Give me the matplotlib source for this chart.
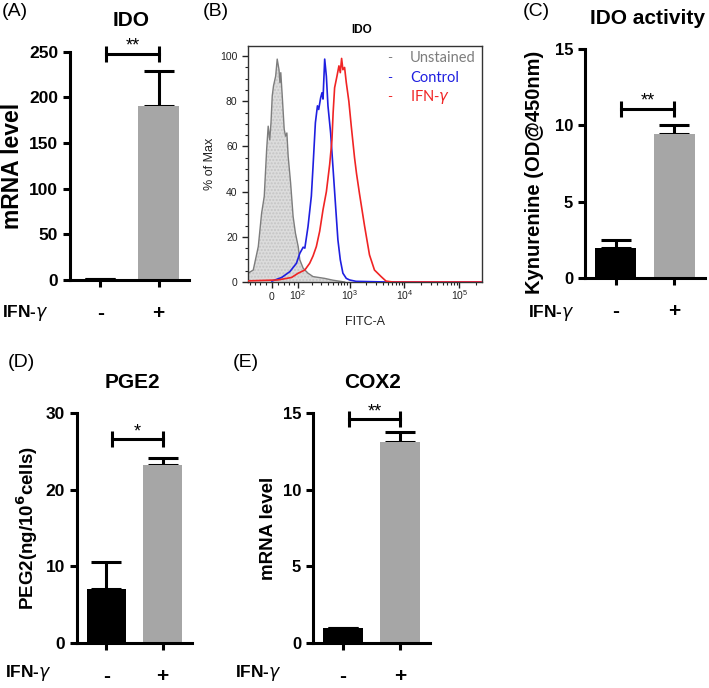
import numpy as np
import matplotlib
matplotlib.use('Agg')
import matplotlib.pyplot as plt
from matplotlib.ticker import FixedLocator
import matplotlib.transforms as mtrans

plt.rcParams['font.family'] = ['Liberation Sans', 'DejaVu Sans']
plt.rcParams['mathtext.fontset'] = 'dejavusans'

W, H = 709, 688

# bar panels: IFN-gamma  -  / +
groups = ['-', '+']
bar_colors = ['black', '#a6a6a6']

ido_mrna = [1.0, 190.0]
ido_mrna_err = [0.0, 39.0]
kyn = [1.95, 9.4]
kyn_err = [0.55, 0.6]
pge2 = [7.1, 23.2]
pge2_err = [3.5, 0.9]
cox2 = [1.0, 13.1]
cox2_err = [0.0, 0.65]

# significance bracket heights and labels
sig_ido, sig_kyn, sig_pge2, sig_cox2 = 248.0, 11.1, 26.6, 14.6
stars_ido, stars_kyn, stars_pge2, stars_cox2 = '**', '**', '*', '**'

# flow histogram (B), FITC-A intensity vs % of max
unst_x = [-90, -66, -46, -34, -25, -17, -12, -7, -3, 1, 5, 12, 17, 23, 26, 29, 34, 41,
          46, 51, 56, 66, 77, 88, 102, 111, 131, 165, 207, 345, 491, 806]
unst_y = [3.9, 5.3, 15.7, 30.5, 37.9, 58.7, 69, 63, 70.5, 82.4, 86.8, 91.2, 98.7, 94,
          88.3, 92.7, 82.4, 67.6, 64.6, 66, 55.7, 43.9, 29, 21.6, 15.7, 9.8, 6.1, 3.9,
          2.4, 1.6, 0.8, 0]
ctrl_x = [0, 32, 63, 93, 111, 131, 142, 165, 192, 207, 230, 252, 266, 290, 307, 321,
          345, 371, 397, 445, 491, 550, 606, 671, 749, 864, 993, 1300, 4600, 250000]
ctrl_y = [0.4, 2, 4.6, 8.3, 12.7, 15.4, 15, 24.6, 38, 51, 70.5, 78, 76.4, 81.6, 83.8,
          81, 98.7, 91, 78, 66, 51, 33.5, 18.7, 9.8, 3.9, 1.6, 0.9, 0.3, 0, 0]
ifn_x = [-90, 19, 70, 102, 142, 178, 207, 240, 278, 321, 371, 427, 471, 495, 527, 581,
         633, 671, 709, 749, 804, 864, 963, 1066, 1224, 1330, 1509, 1860, 2295, 2830,
         3740, 4600, 6080, 250000]
ifn_y = [0.5, 0.9, 2, 3.9, 5.3, 8.3, 11.5, 15.7, 22.5, 32, 40, 52, 63, 75, 86, 91,
         95.7, 92.7, 99, 94, 95, 88.3, 80, 69, 55, 48, 39, 25, 12, 5.3, 2.4, 0.4, 0, 0]
flow_ticks = [0, 1e2, 1e3, 1e4, 1e5]
flow_ticklabels = ['0', r'$\mathregular{10^2}$', r'$\mathregular{10^3}$',
                   r'$\mathregular{10^4}$', r'$\mathregular{10^5}$']


def rect(l, t, r, b):
    return [l / W, 1 - b / H, (r - l) / W, (b - t) / H]


def fx(px):
    return px / W


def fy(py):
    return 1 - py / H


fig = plt.figure(figsize=(W / 100, H / 100), dpi=100)


def bar_panel(box, vals, errs, ymax, ystep, ylab, ylab_size, tick_size, sig_y, stars):
    ax = fig.add_axes(rect(*box))
    x = np.arange(len(groups))
    ax.bar(x, vals, width=0.7, color=bar_colors, zorder=2)
    ax.errorbar(x, vals, yerr=[np.zeros(len(errs)), errs], fmt='none', ecolor='black',
                elinewidth=2.2, capsize=11, capthick=2.2, zorder=1)
    ax.set_xlim(-0.52, 1.52)
    ax.set_ylim(0, ymax)
    ax.set_yticks(np.arange(0, ymax + 0.01, ystep))
    ax.set_xticks(x)
    ax.set_xticklabels(groups, fontsize=15, fontweight='bold')
    for s in ['top', 'right']:
        ax.spines[s].set_visible(False)
    for s in ['left', 'bottom']:
        ax.spines[s].set_linewidth(2.2)
    ax.tick_params(axis='both', direction='out', length=5, width=2.2)
    ax.tick_params(axis='x', pad=12)
    for lab in ax.get_yticklabels():
        lab.set_fontweight('bold')
        lab.set_fontsize(tick_size)
    ax.set_ylabel(ylab, fontsize=ylab_size, fontweight='bold', labelpad=4)
    # significance bracket
    ax.plot([0.1, 1.0], [sig_y, sig_y], color='black', lw=2.2, clip_on=False)
    ax.plot([0.1, 1.0], [sig_y, sig_y], ls='none', marker='|', ms=11, mew=2.2,
            color='black', clip_on=False)
    ax.annotate(stars, xy=(0.55, sig_y), xytext=(0, -1), textcoords='offset points',
                ha='center', va='bottom', fontsize=13, annotation_clip=False)
    return ax


axA = bar_panel((70, 51.7, 189, 280), ido_mrna, ido_mrna_err, 250, 50, 'mRNA level', 16.5,
                12.5, sig_ido, stars_ido)
axC = bar_panel((585, 49, 705, 278), kyn, kyn_err, 15, 5, 'Kynurenine (OD@450nm)', 14.5,
                12, sig_kyn, stars_kyn)
axD = bar_panel((77, 413, 192, 643), pge2, pge2_err, 30, 10,
                r'PEG2(ng/10$^\mathbf{6}$cells)', 13.5, 12.5, sig_pge2, stars_pge2)
axE = bar_panel((313, 413, 430, 643), cox2, cox2_err, 15, 5, 'mRNA level', 13.5,
                12, sig_cox2, stars_cox2)
axC.yaxis.set_label_coords(-0.34, 0.46)

# panel B, flow cytometry histogram
axB = fig.add_axes(rect(248, 46, 482, 282))
axB.set_xscale('asinh', linear_width=76)
axB.fill_between(unst_x, unst_y, 0, facecolor='#dcdcdc', edgecolor='#c4c4c4',
                 hatch='.....', linewidth=0, zorder=1)
axB.plot(unst_x, unst_y, color='#7d7d7d', lw=1.0, zorder=2)
axB.plot(ctrl_x, ctrl_y, color='#1f1fe0', lw=1.2, zorder=3)
axB.plot(ifn_x, ifn_y, color='#f02424', lw=1.2, zorder=4)
axB.set_xlim(-90, 2.6e5)
axB.set_ylim(0, 104.5)
axB.set_xticks(flow_ticks)
axB.set_xticklabels([])
minor = [-80, -60, -40, -20, 20, 40, 60, 80]
for d in [1e2, 1e3, 1e4]:
    minor += [d * k for k in range(2, 10)]
minor += [2e5]
axB.xaxis.set_minor_locator(FixedLocator(minor))
axB.set_yticks(np.arange(0, 101, 20))
axB.yaxis.set_minor_locator(FixedLocator(np.arange(0, 101, 5)))
axB.tick_params(axis='both', which='major', length=4, width=1, labelsize=7.5, colors='#222')
axB.tick_params(axis='both', which='minor', length=2, width=0.8, colors='#222')
for s in axB.spines.values():
    s.set_linewidth(1.0)
    s.set_color('#333')
trans = mtrans.blended_transform_factory(axB.transData, axB.transAxes)
for v, lab in zip(flow_ticks, flow_ticklabels):
    axB.text(v, -0.075, lab, transform=trans, ha='center', va='baseline', fontsize=7.5,
             color='#222')
axB.set_xlabel('FITC-A', fontsize=9, labelpad=17, color='#222')
axB.set_ylabel('% of Max', fontsize=9, labelpad=3, color='#222')
leg = [('Unstained', '#7d7d7d'), ('Control', '#1f1fe0'), (r'IFN-$\gamma$', '#f02424')]
for i, (lab, c) in enumerate(leg):
    yy = 0.949 - i * 0.083
    axB.text(0.607, yy, '-', transform=axB.transAxes, color=c, fontsize=10,
             ha='center', va='center', family=['Lato', 'DejaVu Sans'])
    axB.text(0.692, yy, lab, transform=axB.transAxes, color=c, fontsize=10.5,
             ha='left', va='center', family=['Lato', 'DejaVu Sans'])

# titles and panel letters
fig.text(fx(131), fy(20), 'IDO', ha='center', va='center', fontsize=15, fontweight='bold')
fig.text(fx(362), fy(30), 'IDO', ha='center', va='center', fontsize=8.5, fontweight='bold')
fig.text(fx(648), fy(19), 'IDO activity', ha='center', va='center', fontsize=15,
         fontweight='bold')
fig.text(fx(132), fy(382), 'PGE2', ha='center', va='center', fontsize=15, fontweight='bold')
fig.text(fx(373), fy(382), 'COX2', ha='center', va='center', fontsize=15, fontweight='bold')
for lab, px, py in [('(A)', 2, 12), ('(B)', 203, 12), ('(C)', 523, 12),
                    ('(D)', 8, 362), ('(E)', 233, 362)]:
    fig.text(fx(px), fy(py), lab, ha='left', va='center', fontsize=14)
for px, py in [(2, 313), (528, 313), (5, 673), (235, 673)]:
    fig.text(fx(px), fy(py), r'IFN-$\gamma$', ha='left', va='center', fontsize=12.5,
             fontweight='bold')

fig.savefig('out.png', dpi=100)
